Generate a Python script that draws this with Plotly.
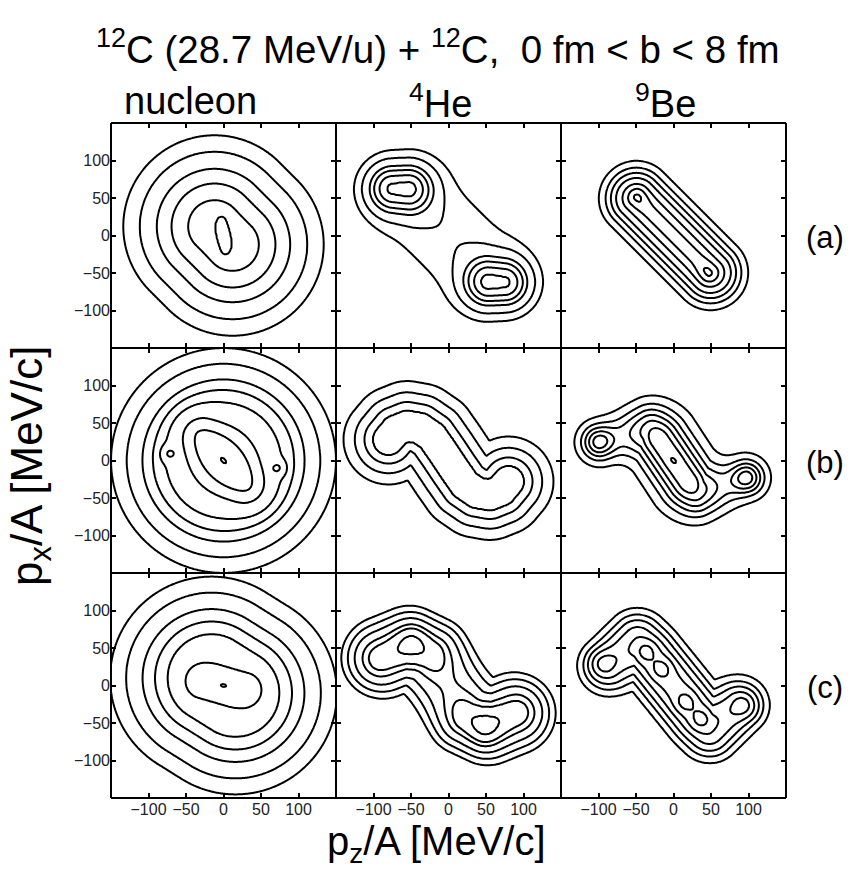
import numpy as np
import plotly.graph_objects as go
from plotly.subplots import make_subplots

# ---------------- values ----------------
AXIS_RANGE = [-150, 150]
TICK_VALUES = [-100, -50, 0, 50, 100]
TITLE = "<sup>12</sup>C (28.7 MeV/u) + <sup>12</sup>C,\u00a0 0 fm &lt; b &lt; 8 fm"
COLUMN_LABELS = ["nucleon", "<sup>4</sup>He", "<sup>9</sup>Be"]
ROW_LABELS = ["(a)", "(b)", "(c)"]
X_TITLE = "p<sub>z</sub>/A [MeV/c]"
Y_TITLE = "p<sub>x</sub>/A [MeV/c]"

# density components: (amplitude, width [MeV/c], ridge points (pz/A, px/A))
a_nucleon = [(1.0, 58, [(-12, 12), (12, -12)]),
             (0.08, 8, [(0, 22), (0, -22)])]
a_nucleon_levels = [0.111, 0.228, 0.415, 0.614, 0.833, 1.03]

b_nucleon = [(1.0, 68, [(0, 0)]),
             (0.307, 20, [(-35, 38), (35, -38)]),
             (0.3, 7, [(-73, 9)]),
             (0.3, 7, [(73, -10)])]
b_nucleon_levels = [0.088, 0.165, 0.283, 0.385, 0.53, 0.84, 1.06, 1.304]

c_nucleon = [(1.0, 58, [(-16, 10), (16, -10)]),
             (0.755, 12, [(-30, 5), (30, -5)]),
             (0.06, 5, [(0, 0)])]
c_nucleon_levels = [0.066, 0.145, 0.285, 0.43, 0.6, 1.002, 1.80]

a_he4 = [(1.0, 22, [(-76, 63), (-54, 63)]),
         (1.0, 22, [(54, -63), (76, -63)]),
         (0.21, 40, [(-38, 38), (38, -38)])]
a_he4_levels = [0.09, 0.225, 0.46, 0.63, 0.84, 1.06]

b_he4 = [(1.0, 30, [(-80, 28), (-70, 40), (-55, 46), (-38, 43), (-22, 32), (-8, 12),
                    (8, -12), (22, -32), (38, -43), (55, -46), (70, -40), (80, -28)])]
b_he4_levels = [0.135, 0.325, 0.566, 0.783]

c_he4 = [(0.5, 30, [(-85, 38), (-55, 50), (-25, 35), (25, -35), (55, -50), (85, -38)]),
         (0.3, 22, [(-95, 35), (-45, 55), (-20, 45)]),
         (0.3, 22, [(95, -35), (45, -55), (20, -45)]),
         (0.25, 16, [(-49, 58)]),
         (0.25, 16, [(48, -56)])]
c_he4_levels = [0.106, 0.19, 0.32, 0.51, 0.65, 0.9]

a_be9 = [(1.0, 26, [(-49.5, 49.5), (49.5, -49.5)]),
         (0.1, 10, [(-47, 53)]),
         (0.1, 10, [(44, -51)])]
a_be9_levels = [0.157, 0.288, 0.425, 0.583, 0.787, 0.954, 1.07]

b_be9 = [(0.3, 20, [(-99, 24), (-65, 36), (-35, 48), (35, -48), (65, -36), (97, -23)]),
         (0.4, 14, [(-99, 25)]),
         (0.4, 14, [(97, -23)]),
         (0.55, 28, [(-18, 28), (18, -28)]),
         (0.04, 6, [(0, 0)])]
b_be9_levels = [0.1, 0.23, 0.36, 0.49, 0.62, 0.75, 0.88]

c_be9 = [(0.6, 26, [(-88, 26), (-50, 62), (50, -62), (88, -26)]),
         (0.25, 12, [(-94, 30)]),
         (0.25, 12, [(93, -27)]),
         (0.25, 30, [(-30, 37), (30, -37)]),
         (0.3, 9, [(-37, 45)]),
         (0.3, 9, [(-16, 22)]),
         (0.3, 9, [(16, -22)]),
         (0.3, 9, [(37, -45)])]
c_be9_levels = [0.185, 0.304, 0.426, 0.577, 0.75, 0.99]

PANELS = {
    (1, 1): (a_nucleon, a_nucleon_levels), (1, 2): (a_he4, a_he4_levels), (1, 3): (a_be9, a_be9_levels),
    (2, 1): (b_nucleon, b_nucleon_levels), (2, 2): (b_he4, b_he4_levels), (2, 3): (b_be9, b_be9_levels),
    (3, 1): (c_nucleon, c_nucleon_levels), (3, 2): (c_he4, c_he4_levels), (3, 3): (c_be9, c_be9_levels),
}

# ---------------- build surfaces ----------------
grid = np.linspace(AXIS_RANGE[0], AXIS_RANGE[1], 201)
PZ, PX = np.meshgrid(grid, grid)


def path_distance(pts):
    if len(pts) == 1:
        return np.hypot(PZ - pts[0][0], PX - pts[0][1])
    d = np.full(PZ.shape, np.inf)
    for (z1, x1), (z2, x2) in zip(pts[:-1], pts[1:]):
        dz, dx = z2 - z1, x2 - x1
        t = np.clip(((PZ - z1) * dz + (PX - x1) * dx) / (dz * dz + dx * dx), 0, 1)
        d = np.minimum(d, np.hypot(PZ - (z1 + t * dz), PX - (x1 + t * dx)))
    return d


def surface(components):
    f = np.zeros_like(PZ)
    for amp, width, pts in components:
        f += amp * np.exp(-path_distance(pts) ** 2 / (2.0 * width ** 2))
    return f


fig = make_subplots(rows=3, cols=3, horizontal_spacing=0, vertical_spacing=0)

for (r, c), (comps, levels) in PANELS.items():
    f = surface(comps)
    n = len(levels)
    xp = [0.0] + list(levels) + [max(f.max(), levels[-1]) + 1.0]
    fp = list(range(n + 2))
    zmap = np.round(np.interp(f, xp, fp), 4)
    fig.add_trace(go.Contour(
        x=grid, y=grid, z=zmap, autocontour=False,
        contours=dict(start=1, end=n, size=1, coloring="lines"),
        colorscale=[[0, "black"], [1, "black"]], showscale=False,
        line=dict(width=2, smoothing=1), hoverinfo="skip"),
        row=r, col=c)

tick_font = dict(family="Liberation Sans, Arial, sans-serif", size=16, color="#222")
axis_style = dict(range=AXIS_RANGE, tickvals=TICK_VALUES, ticks="inside", ticklen=5, tickwidth=1.5,
                  tickcolor="black", showline=False, mirror="ticks",
                  showgrid=False, zeroline=False, showticklabels=False, tickfont=tick_font)
fig.update_xaxes(**axis_style)
fig.update_yaxes(**axis_style)
for c in (1, 2, 3):
    fig.update_xaxes(showticklabels=True, row=3, col=c)
for r in (1, 2, 3):
    fig.update_yaxes(showticklabels=True, row=r, col=1)

# panel frames (drawn once so shared edges have the same weight)
shapes = []
for k in range(4):
    shapes.append(dict(type="line", xref="paper", yref="paper", x0=k / 3, x1=k / 3, y0=0, y1=1,
                       line=dict(color="black", width=2)))
    shapes.append(dict(type="line", xref="paper", yref="paper", x0=0, x1=1, y0=k / 3, y1=k / 3,
                       line=dict(color="black", width=2)))

# ---------------- text ----------------
L, T, W, H = 111, 123, 675, 675


def px2paper(x, y):
    return (x - L) / W, (T + H - y) / H


FAMILY = "Liberation Sans, Arial, sans-serif"
annotations = []


def add_text(text, x, y, size, angle=0):
    xp_, yp_ = px2paper(x, y)
    annotations.append(dict(text=text, x=xp_, y=yp_, xref="paper", yref="paper", showarrow=False,
                            xanchor="center", yanchor="middle",
                            font=dict(family=FAMILY, size=size, color="black"), textangle=angle))


add_text(TITLE, 438, 47, 38.5)
for label, x in zip(COLUMN_LABELS, [190, 440, 665]):
    add_text(label, x, 101, 38)
for label, y in zip(ROW_LABELS, [237, 462, 687]):
    add_text(label, 825, y, 31)
add_text(X_TITLE, 436, 844, 40)
add_text(Y_TITLE, 30, 466, 44, angle=-90)

fig.update_layout(width=852, height=870, margin=dict(l=L, r=852 - L - W, t=T, b=870 - T - H),
                  paper_bgcolor="white", plot_bgcolor="white", showlegend=False,
                  annotations=annotations, shapes=shapes)

fig.write_html("out.html")
